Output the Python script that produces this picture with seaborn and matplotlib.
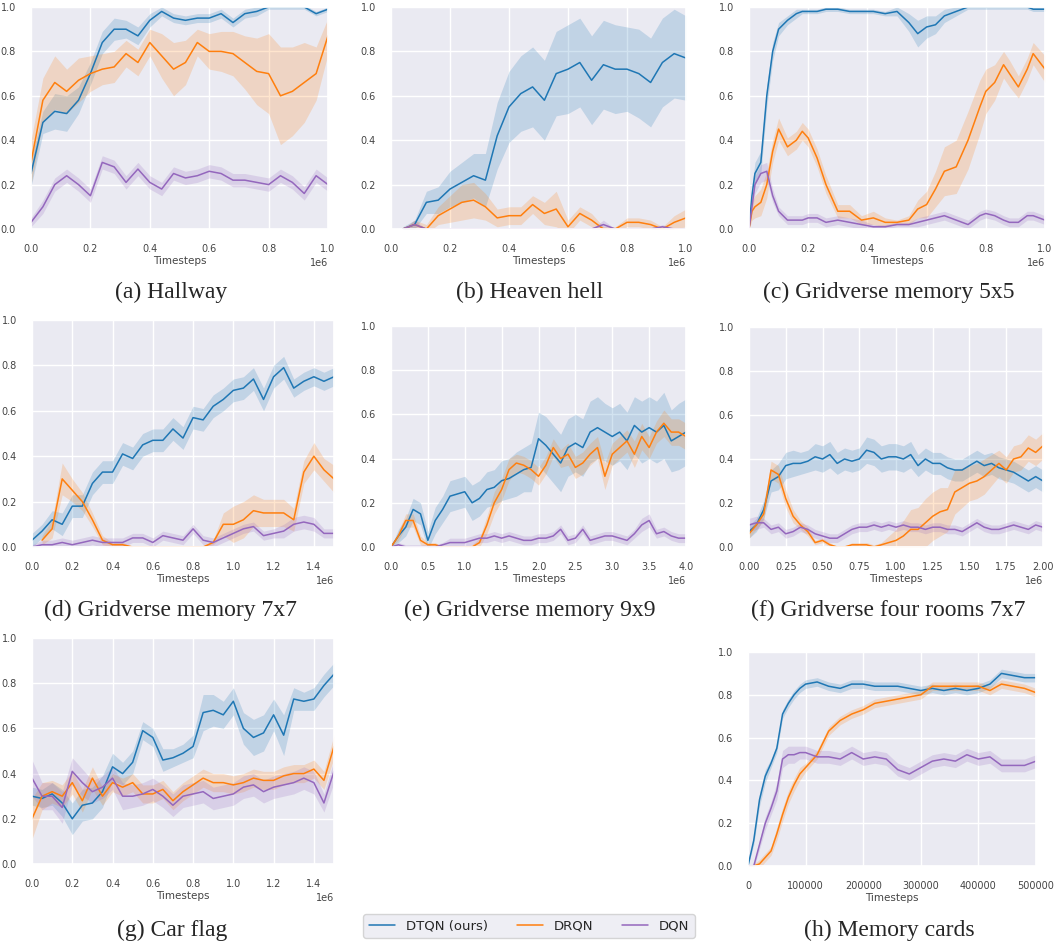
import numpy as np
import matplotlib.pyplot as plt
import seaborn as sns

sns.set_theme(style="darkgrid")
plt.rcParams['font.family'] = ['DejaVu Sans']

nan = np.nan
ALGOS = ['DTQN (ours)', 'DRQN', 'DQN']
COLORS = ['#1f77b4', '#ff7f0e', '#9467bd']

# (a) Hallway  (x in millions of timesteps)
A_X = [0, .04, .08, .12, .16, .20, .24, .28, .32, .36, .40, .44, .48, .52, .56, .60, .64, .68, .72, .76, .80, .84, .88, .92, .96, 1.0]
A_DTQN = [0.25, 0.48, 0.53, 0.52, 0.58, 0.70, 0.84, 0.90, 0.90, 0.87, 0.94, 0.98, 0.95, 0.94, 0.95, 0.95, 0.97, 0.93, 0.97, 0.98, 1.0, 1.0, 1.0, 1.0, 0.97, 0.99]
A_DTQN_SD = [0.06, 0.05, 0.08, 0.08, 0.06, 0.05, 0.05, 0.05, 0.04, 0.04, 0.03, 0.02, 0.02, 0.02, 0.02, 0.02, 0.02, 0.02, 0.02, 0.02, 0.01, 0.01, 0.01, 0.01, 0.01, 0.01]
A_DRQN = [0.30, 0.58, 0.66, 0.62, 0.67, 0.70, 0.72, 0.73, 0.79, 0.75, 0.84, 0.78, 0.72, 0.75, 0.84, 0.80, 0.80, 0.79, 0.75, 0.71, 0.70, 0.60, 0.62, 0.66, 0.70, 0.87]
A_DRQN_SD = [0.10, 0.10, 0.12, 0.10, 0.10, 0.08, 0.07, 0.07, 0.06, 0.06, 0.06, 0.10, 0.12, 0.10, 0.06, 0.08, 0.09, 0.10, 0.12, 0.15, 0.18, 0.22, 0.20, 0.18, 0.12, 0.08]
A_DQN = [0.03, 0.10, 0.20, 0.24, 0.20, 0.15, 0.30, 0.28, 0.21, 0.27, 0.21, 0.18, 0.25, 0.23, 0.24, 0.26, 0.25, 0.22, 0.22, 0.21, 0.20, 0.24, 0.21, 0.16, 0.24, 0.20]
A_DQN_SD = [0.02, 0.03, 0.03, 0.03, 0.03, 0.03, 0.03, 0.03, 0.03, 0.03, 0.03, 0.03, 0.03, 0.03, 0.03, 0.03, 0.03, 0.03, 0.03, 0.03, 0.03, 0.03, 0.03, 0.03, 0.03, 0.03]

# (b) Heaven hell
B_X = [0, .04, .08, .12, .16, .20, .24, .28, .32, .36, .40, .44, .48, .52, .56, .60, .64, .68, .72, .76, .80, .84, .88, .92, .96, 1.0]
B_DTQN = [nan, 0.0, 0.02, 0.12, 0.13, 0.18, 0.21, 0.24, 0.22, 0.42, 0.55, 0.61, 0.64, 0.58, 0.70, 0.72, 0.75, 0.67, 0.74, 0.72, 0.72, 0.70, 0.66, 0.75, 0.79, 0.77]
B_DTQN_SD = [0.0, 0.01, 0.02, 0.05, 0.06, 0.08, 0.09, 0.10, 0.12, 0.15, 0.16, 0.17, 0.18, 0.18, 0.19, 0.20, 0.20, 0.20, 0.20, 0.20, 0.19, 0.20, 0.20, 0.20, 0.20, 0.19]
B_DRQN = [nan, 0.0, 0.02, 0.0, 0.06, 0.09, 0.12, 0.13, 0.10, 0.05, 0.06, 0.06, 0.11, 0.07, 0.09, 0.01, 0.07, 0.04, 0.0, 0.0, 0.03, 0.03, 0.02, 0.0, 0.03, 0.05]
B_DRQN_SD = [0.0, 0.0, 0.02, 0.02, 0.04, 0.06, 0.08, 0.08, 0.06, 0.04, 0.04, 0.04, 0.04, 0.05, 0.08, 0.03, 0.03, 0.03, 0.01, 0.01, 0.02, 0.02, 0.02, 0.01, 0.03, 0.04]
B_DQN = [nan, 0.0, 0.02, 0.0, 0.0, 0.0, 0.0, 0.0, 0.0, 0.0, 0.0, 0.0, 0.0, 0.0, 0.0, 0.0, 0.0, 0.0, 0.02, 0.0, 0.0, 0.0, 0.0, 0.01, 0.0, 0.0]
B_DQN_SD = [0.0, 0.0, 0.02, 0.0, 0.0, 0.0, 0.0, 0.0, 0.0, 0.0, 0.0, 0.0, 0.0, 0.0, 0.0, 0.0, 0.0, 0.0, 0.02, 0.0, 0.0, 0.0, 0.0, 0.01, 0.0, 0.0]

# (c) Gridverse memory 5x5
C_X = [0, .01, .02, .04, .06, .08, .10, .13, .16, .18, .20, .23, .26, .30, .34, .38, .42, .46, .50, .54, .57, .60, .63, .66, .70, .74, .78, .80, .83, .86, .88, .91, .94, .96, 1.0]
C_DTQN = [0.0, 0.15, 0.25, 0.30, 0.60, 0.80, 0.90, 0.94, 0.97, 0.98, 0.98, 0.98, 0.99, 0.99, 0.98, 0.98, 0.98, 0.97, 0.98, 0.93, 0.88, 0.91, 0.92, 0.96, 0.98, 1.0, 1.0, 1.0, 1.0, 1.0, 1.0, 1.0, 1.0, 0.99, 0.99]
C_DTQN_SD = [0.0, 0.04, 0.05, 0.05, 0.05, 0.04, 0.03, 0.02, 0.02, 0.01, 0.01, 0.01, 0.01, 0.01, 0.01, 0.01, 0.01, 0.01, 0.02, 0.04, 0.06, 0.05, 0.04, 0.03, 0.02, 0.01, 0.01, 0.01, 0.01, 0.01, 0.01, 0.01, 0.01, 0.01, 0.01]
C_DRQN = [0.0, 0.08, 0.10, 0.12, 0.20, 0.35, 0.45, 0.37, 0.40, 0.44, 0.41, 0.32, 0.20, 0.08, 0.08, 0.04, 0.05, 0.03, 0.03, 0.04, 0.09, 0.11, 0.18, 0.26, 0.28, 0.40, 0.55, 0.62, 0.66, 0.74, 0.70, 0.64, 0.72, 0.79, 0.72]
C_DRQN_SD = [0.0, 0.04, 0.05, 0.06, 0.06, 0.05, 0.05, 0.04, 0.04, 0.04, 0.04, 0.04, 0.04, 0.03, 0.03, 0.02, 0.03, 0.02, 0.01, 0.02, 0.04, 0.06, 0.08, 0.11, 0.12, 0.13, 0.12, 0.10, 0.08, 0.06, 0.06, 0.05, 0.05, 0.05, 0.06]
C_DQN = [0.0, 0.10, 0.20, 0.25, 0.26, 0.15, 0.08, 0.04, 0.04, 0.04, 0.05, 0.05, 0.03, 0.04, 0.03, 0.02, 0.01, 0.01, 0.02, 0.02, 0.03, 0.04, 0.05, 0.06, 0.04, 0.02, 0.06, 0.07, 0.06, 0.04, 0.03, 0.03, 0.06, 0.06, 0.04]
C_DQN_SD = [0.0, 0.03, 0.04, 0.04, 0.04, 0.03, 0.02, 0.02, 0.02, 0.02, 0.02, 0.02, 0.02, 0.02, 0.02, 0.02, 0.01, 0.01, 0.01, 0.01, 0.02, 0.02, 0.02, 0.02, 0.02, 0.02, 0.02, 0.02, 0.02, 0.02, 0.02, 0.02, 0.02, 0.02, 0.02]

# (d) Gridverse memory 7x7
D_X = [0, .05, .10, .15, .20, .25, .30, .35, .40, .45, .50, .55, .60, .65, .70, .75, .80, .85, .90, .95, 1.0, 1.05, 1.10, 1.15, 1.20, 1.25, 1.30, 1.35, 1.40, 1.45, 1.50]
D_DTQN = [0.03, 0.07, 0.12, 0.10, 0.18, 0.18, 0.28, 0.33, 0.33, 0.41, 0.39, 0.45, 0.47, 0.47, 0.52, 0.48, 0.57, 0.56, 0.62, 0.65, 0.69, 0.70, 0.74, 0.65, 0.75, 0.79, 0.70, 0.73, 0.75, 0.73, 0.75]
D_DTQN_SD = [0.03, 0.03, 0.04, 0.05, 0.05, 0.05, 0.05, 0.05, 0.05, 0.05, 0.05, 0.05, 0.05, 0.05, 0.05, 0.05, 0.05, 0.05, 0.05, 0.05, 0.05, 0.05, 0.05, 0.05, 0.05, 0.05, 0.04, 0.04, 0.04, 0.04, 0.04]
D_DRQN = [nan, 0.03, 0.08, 0.30, 0.25, 0.20, 0.12, 0.03, 0.01, 0.01, 0.0, 0.0, 0.0, 0.0, 0.0, 0.0, 0.0, 0.0, 0.02, 0.10, 0.10, 0.12, 0.16, 0.15, 0.15, 0.15, 0.12, 0.33, 0.40, 0.34, 0.30]
D_DRQN_SD = [0.0, 0.02, 0.04, 0.07, 0.05, 0.04, 0.03, 0.02, 0.01, 0.01, 0.0, 0.0, 0.0, 0.0, 0.0, 0.0, 0.0, 0.0, 0.01, 0.05, 0.08, 0.08, 0.07, 0.06, 0.06, 0.06, 0.05, 0.05, 0.06, 0.05, 0.06]
D_DQN = [0.0, 0.01, 0.01, 0.02, 0.01, 0.02, 0.03, 0.02, 0.02, 0.02, 0.04, 0.04, 0.02, 0.05, 0.04, 0.03, 0.08, 0.03, 0.02, 0.04, 0.06, 0.08, 0.09, 0.05, 0.06, 0.07, 0.10, 0.11, 0.10, 0.06, 0.06]
D_DQN_SD = [0.01, 0.02, 0.02, 0.02, 0.02, 0.02, 0.02, 0.02, 0.02, 0.02, 0.02, 0.02, 0.02, 0.02, 0.02, 0.02, 0.02, 0.02, 0.02, 0.02, 0.02, 0.02, 0.02, 0.02, 0.02, 0.03, 0.03, 0.03, 0.03, 0.02, 0.02]

# (e) Gridverse memory 9x9
E_X = [0, .1, .2, .3, .4, .5, .6, .7, .8, .9, 1.0, 1.1, 1.2, 1.3, 1.4, 1.5, 1.6, 1.7, 1.8, 1.9, 2.0,
       2.1, 2.2, 2.3, 2.4, 2.5, 2.6, 2.7, 2.8, 2.9, 3.0, 3.1, 3.2, 3.3, 3.4, 3.5, 3.6, 3.7, 3.8, 3.9, 4.0]
E_DTQN = [0.0, 0.05, 0.09, 0.17, 0.15, 0.03, 0.12, 0.17, 0.23, 0.24, 0.25, 0.20, 0.22, 0.26, 0.27, 0.30, 0.31, 0.33, 0.35, 0.36, 0.49,
          0.46, 0.42, 0.38, 0.45, 0.47, 0.45, 0.52, 0.54, 0.52, 0.50, 0.52, 0.48, 0.55, 0.52, 0.54, 0.52, 0.55, 0.48, 0.50, 0.52]
E_DTQN_SD = [0.0, 0.03, 0.04, 0.05, 0.05, 0.04, 0.06, 0.06, 0.07, 0.07, 0.07, 0.08, 0.08, 0.08, 0.08, 0.09, 0.09, 0.10, 0.10, 0.11, 0.12,
             0.13, 0.13, 0.13, 0.13, 0.13, 0.13, 0.14, 0.14, 0.13, 0.13, 0.13, 0.13, 0.13, 0.14, 0.14, 0.14, 0.15, 0.14, 0.15, 0.15]
E_DRQN = [0.0, 0.05, 0.12, 0.12, 0.03, 0.01, 0.01, 0.0, 0.0, 0.0, 0.0, 0.0, 0.02, 0.10, 0.20, 0.26, 0.35, 0.38, 0.37, 0.35, 0.32,
          0.37, 0.45, 0.40, 0.42, 0.36, 0.38, 0.42, 0.45, 0.32, 0.42, 0.45, 0.48, 0.42, 0.50, 0.45, 0.52, 0.56, 0.52, 0.52, 0.50]
E_DRQN_SD = [0.0, 0.02, 0.03, 0.03, 0.02, 0.01, 0.01, 0.0, 0.0, 0.0, 0.0, 0.01, 0.02, 0.04, 0.05, 0.05, 0.05, 0.04, 0.04, 0.04, 0.04,
             0.04, 0.04, 0.04, 0.05, 0.05, 0.05, 0.05, 0.05, 0.06, 0.05, 0.05, 0.05, 0.06, 0.06, 0.05, 0.05, 0.06, 0.06, 0.06, 0.06]
E_DQN = [0.0, 0.01, 0.0, 0.0, 0.0, 0.0, 0.0, 0.01, 0.02, 0.02, 0.02, 0.03, 0.04, 0.04, 0.05, 0.04, 0.05, 0.04, 0.03, 0.03, 0.04,
         0.04, 0.05, 0.08, 0.03, 0.04, 0.08, 0.03, 0.04, 0.05, 0.05, 0.04, 0.03, 0.06, 0.10, 0.12, 0.06, 0.07, 0.05, 0.04, 0.04]
E_DQN_SD = [0.0, 0.01, 0.01, 0.01, 0.01, 0.01, 0.01, 0.01, 0.02, 0.02, 0.02, 0.02, 0.02, 0.02, 0.02, 0.02, 0.02, 0.02, 0.02, 0.02, 0.02,
            0.02, 0.02, 0.02, 0.02, 0.02, 0.02, 0.02, 0.02, 0.02, 0.02, 0.02, 0.02, 0.02, 0.03, 0.03, 0.02, 0.02, 0.02, 0.02, 0.02]

# (f) Gridverse four rooms 7x7
F_X = [0, .05, .10, .15, .20, .25, .30, .35, .40, .45, .50, .55, .60, .65, .70, .75, .80, .85, .90, .95, 1.0,
       1.05, 1.10, 1.15, 1.20, 1.25, 1.30, 1.35, 1.40, 1.45, 1.50, 1.55, 1.60, 1.65, 1.70, 1.75, 1.80, 1.85, 1.90, 1.95, 2.0]
F_DTQN = [0.07, 0.10, 0.17, 0.30, 0.32, 0.37, 0.38, 0.38, 0.39, 0.41, 0.40, 0.42, 0.38, 0.40, 0.39, 0.40, 0.44, 0.43, 0.40, 0.41, 0.41,
          0.40, 0.42, 0.37, 0.40, 0.38, 0.38, 0.36, 0.35, 0.35, 0.37, 0.39, 0.37, 0.38, 0.36, 0.35, 0.34, 0.32, 0.30, 0.32, 0.30]
F_DTQN_SD = [0.03, 0.03, 0.04, 0.05, 0.06, 0.06, 0.06, 0.05, 0.05, 0.06, 0.06, 0.06, 0.05, 0.05, 0.05, 0.05, 0.06, 0.06, 0.06, 0.06, 0.06,
             0.06, 0.06, 0.05, 0.05, 0.05, 0.05, 0.05, 0.05, 0.05, 0.05, 0.05, 0.05, 0.05, 0.05, 0.05, 0.05, 0.05, 0.05, 0.05, 0.05]
F_DRQN = [0.06, 0.10, 0.15, 0.35, 0.33, 0.22, 0.14, 0.10, 0.07, 0.02, 0.03, 0.01, 0.0, 0.0, 0.01, 0.01, 0.01, 0.0, 0.01, 0.02, 0.03,
          0.05, 0.08, 0.08, 0.11, 0.14, 0.16, 0.17, 0.25, 0.27, 0.29, 0.30, 0.32, 0.35, 0.38, 0.35, 0.40, 0.41, 0.45, 0.43, 0.46]
F_DRQN_SD = [0.02, 0.02, 0.03, 0.04, 0.04, 0.04, 0.03, 0.02, 0.02, 0.01, 0.01, 0.01, 0.0, 0.0, 0.01, 0.01, 0.01, 0.01, 0.01, 0.03, 0.05,
             0.07, 0.09, 0.10, 0.11, 0.11, 0.11, 0.10, 0.10, 0.09, 0.08, 0.08, 0.08, 0.07, 0.06, 0.06, 0.06, 0.06, 0.06, 0.06, 0.06]
F_DQN = [0.10, 0.11, 0.11, 0.08, 0.09, 0.06, 0.07, 0.09, 0.08, 0.06, 0.05, 0.04, 0.04, 0.06, 0.08, 0.09, 0.09, 0.10, 0.09, 0.10, 0.09,
         0.10, 0.09, 0.09, 0.08, 0.09, 0.09, 0.08, 0.08, 0.07, 0.09, 0.11, 0.09, 0.08, 0.08, 0.09, 0.10, 0.09, 0.08, 0.10, 0.09]
F_DQN_SD = [0.03, 0.03, 0.02, 0.02, 0.02, 0.02, 0.02, 0.02, 0.02, 0.02, 0.02, 0.02, 0.02, 0.02, 0.02, 0.02, 0.02, 0.02, 0.02, 0.02, 0.02,
            0.02, 0.02, 0.02, 0.02, 0.02, 0.02, 0.02, 0.02, 0.02, 0.02, 0.02, 0.02, 0.02, 0.02, 0.02, 0.02, 0.02, 0.02, 0.02, 0.02]

# (g) Car flag
G_X = [0, .05, .10, .15, .20, .25, .30, .35, .40, .45, .50, .55, .60, .65, .70, .75, .80, .85, .90, .95, 1.0, 1.05, 1.10, 1.15, 1.20, 1.25, 1.30, 1.35, 1.40, 1.45, 1.50]
G_DTQN = [0.30, 0.29, 0.31, 0.27, 0.20, 0.26, 0.27, 0.32, 0.43, 0.40, 0.45, 0.59, 0.56, 0.46, 0.47, 0.49, 0.52, 0.67, 0.68, 0.66, 0.72, 0.60, 0.56, 0.58, 0.66, 0.57, 0.73, 0.72, 0.73, 0.79, 0.84]
G_DTQN_SD = [0.04, 0.04, 0.05, 0.06, 0.07, 0.07, 0.07, 0.07, 0.06, 0.05, 0.05, 0.04, 0.04, 0.05, 0.04, 0.04, 0.05, 0.08, 0.07, 0.06, 0.06, 0.07, 0.08, 0.08, 0.07, 0.09, 0.05, 0.04, 0.05, 0.05, 0.05]
G_DRQN = [0.20, 0.30, 0.32, 0.30, 0.36, 0.28, 0.38, 0.30, 0.36, 0.34, 0.36, 0.31, 0.31, 0.33, 0.28, 0.32, 0.35, 0.38, 0.36, 0.36, 0.35, 0.36, 0.38, 0.37, 0.37, 0.39, 0.40, 0.40, 0.42, 0.37, 0.52]
G_DRQN_SD = [0.09, 0.06, 0.05, 0.05, 0.05, 0.05, 0.05, 0.04, 0.04, 0.04, 0.04, 0.04, 0.04, 0.04, 0.04, 0.04, 0.04, 0.04, 0.04, 0.04, 0.04, 0.04, 0.04, 0.04, 0.04, 0.04, 0.04, 0.04, 0.04, 0.04, 0.05]
G_DQN = [0.38, 0.30, 0.30, 0.25, 0.41, 0.36, 0.32, 0.34, 0.38, 0.30, 0.30, 0.31, 0.33, 0.30, 0.26, 0.30, 0.31, 0.32, 0.29, 0.30, 0.31, 0.34, 0.35, 0.32, 0.34, 0.35, 0.36, 0.38, 0.36, 0.27, 0.41]
G_DQN_SD = [0.08, 0.06, 0.06, 0.07, 0.06, 0.06, 0.05, 0.05, 0.05, 0.06, 0.05, 0.05, 0.05, 0.05, 0.05, 0.05, 0.05, 0.05, 0.05, 0.05, 0.05, 0.05, 0.05, 0.05, 0.05, 0.05, 0.05, 0.05, 0.05, 0.04, 0.05]

# (h) Memory cards (raw timesteps)
H_X = [0, 10000, 20000, 30000, 40000, 50000, 60000, 70000, 80000, 90000, 100000, 120000, 140000, 160000, 180000, 200000,
       220000, 240000, 260000, 280000, 300000, 320000, 340000, 360000, 380000, 400000, 420000, 440000, 460000, 480000, 500000]
H_DTQN = [0.0, 0.12, 0.31, 0.42, 0.48, 0.55, 0.71, 0.76, 0.80, 0.83, 0.85, 0.86, 0.84, 0.83, 0.85, 0.85,
          0.84, 0.84, 0.84, 0.83, 0.82, 0.83, 0.82, 0.83, 0.82, 0.83, 0.85, 0.90, 0.89, 0.88, 0.88]
H_DTQN_SD = [0.0, 0.02, 0.03, 0.03, 0.02, 0.02, 0.02, 0.02, 0.02, 0.02, 0.02, 0.02, 0.02, 0.02, 0.02, 0.02,
             0.02, 0.02, 0.02, 0.02, 0.02, 0.02, 0.02, 0.02, 0.02, 0.02, 0.02, 0.02, 0.02, 0.02, 0.02]
H_DRQN = [0.0, 0.0, 0.01, 0.04, 0.07, 0.15, 0.24, 0.32, 0.38, 0.43, 0.46, 0.52, 0.63, 0.68, 0.71, 0.73,
          0.76, 0.77, 0.78, 0.79, 0.80, 0.84, 0.84, 0.84, 0.84, 0.84, 0.82, 0.85, 0.84, 0.83, 0.81]
H_DRQN_SD = [0.0, 0.01, 0.02, 0.02, 0.02, 0.03, 0.03, 0.03, 0.03, 0.03, 0.02, 0.02, 0.02, 0.02, 0.02, 0.02,
             0.02, 0.02, 0.02, 0.02, 0.02, 0.02, 0.02, 0.02, 0.02, 0.02, 0.02, 0.02, 0.02, 0.02, 0.02]
H_DQN = [0.0, 0.0, 0.10, 0.20, 0.27, 0.35, 0.50, 0.52, 0.52, 0.53, 0.53, 0.51, 0.51, 0.50, 0.53, 0.50,
         0.51, 0.50, 0.45, 0.43, 0.46, 0.49, 0.50, 0.49, 0.52, 0.50, 0.51, 0.47, 0.47, 0.47, 0.49]
H_DQN_SD = [0.0, 0.01, 0.02, 0.03, 0.03, 0.04, 0.04, 0.04, 0.04, 0.03, 0.03, 0.03, 0.03, 0.03, 0.03, 0.03,
            0.03, 0.03, 0.03, 0.03, 0.03, 0.03, 0.03, 0.03, 0.03, 0.03, 0.03, 0.03, 0.03, 0.03, 0.03]

W, H = 1056, 944
fig = plt.figure(figsize=(W / 100, H / 100), dpi=100)


def rect(l, r, t, b):
    return [l / W, 1 - b / H, (r - l) / W, (b - t) / H]


def panel(box, x, scale, series, xticks, caption, cap_xy):
    ax = fig.add_axes(rect(*box))
    xs = np.array(x) * scale
    for (name, mean, sd), c in zip(zip(ALGOS, *zip(*series)), COLORS):
        mean = np.array(mean, dtype=float)
        sd = np.array(sd, dtype=float)
        ax.fill_between(xs, mean - sd, mean + sd, color=c, alpha=0.2, lw=0)
        sns.lineplot(x=xs, y=mean, ax=ax, color=c, linewidth=1.1, label=name, errorbar=None)
    ax.get_legend().remove()
    ax.set_xlim(0, xs[-1])
    ax.set_ylim(0, 1)
    ax.set_yticks([0, 0.2, 0.4, 0.6, 0.8, 1.0])
    ax.set_xticks(np.array(xticks) * scale)
    ax.tick_params(labelsize=7, pad=5, colors='#444444')
    ax.set_xlabel('Timesteps', fontsize=7.5, labelpad=1.5, color='#444444')
    ax.xaxis.get_offset_text().set_fontsize(7)
    ax.xaxis.get_offset_text().set_color('#444444')
    fig.text(cap_xy[0] / W, 1 - cap_xy[1] / H, caption, ha='center', va='center',
             family='Liberation Serif', fontsize=17)
    return ax


ax_a = panel((31, 328, 7, 229), A_X, 1e6,
             [(A_DTQN, A_DTQN_SD), (A_DRQN, A_DRQN_SD), (A_DQN, A_DQN_SD)],
             [0, .2, .4, .6, .8, 1.0], '(a) Hallway', (171, 292))
panel((391, 686, 7, 229), B_X, 1e6,
      [(B_DTQN, B_DTQN_SD), (B_DRQN, B_DRQN_SD), (B_DQN, B_DQN_SD)],
      [0, .2, .4, .6, .8, 1.0], '(b) Heaven hell', (530, 292))
panel((749, 1045, 7, 229), C_X, 1e6,
      [(C_DTQN, C_DTQN_SD), (C_DRQN, C_DRQN_SD), (C_DQN, C_DQN_SD)],
      [0, .2, .4, .6, .8, 1.0], '(c) Gridverse memory 5x5', (889, 292))
panel((32, 334, 320, 547), D_X, 1e6,
      [(D_DTQN, D_DTQN_SD), (D_DRQN, D_DRQN_SD), (D_DQN, D_DQN_SD)],
      [0, .2, .4, .6, .8, 1.0, 1.2, 1.4], '(d) Gridverse memory 7x7', (170, 610))
panel((391, 686, 326, 547), E_X, 1e6,
      [(E_DTQN, E_DTQN_SD), (E_DRQN, E_DRQN_SD), (E_DQN, E_DQN_SD)],
      [0, .5, 1.0, 1.5, 2.0, 2.5, 3.0, 3.5, 4.0], '(e) Gridverse memory 9x9', (530, 610))
panel((749, 1043, 327, 547), F_X, 1e6,
      [(F_DTQN, F_DTQN_SD), (F_DRQN, F_DRQN_SD), (F_DQN, F_DQN_SD)],
      [0, .25, .5, .75, 1.0, 1.25, 1.5, 1.75, 2.0], '(f) Gridverse four rooms 7x7', (888, 610))
panel((32, 334, 638, 864), G_X, 1e6,
      [(G_DTQN, G_DTQN_SD), (G_DRQN, G_DRQN_SD), (G_DQN, G_DQN_SD)],
      [0, .2, .4, .6, .8, 1.0, 1.2, 1.4], '(g) Car flag', (172, 930))
ax_h = panel((748, 1036, 652, 866), H_X, 1,
             [(H_DTQN, H_DTQN_SD), (H_DRQN, H_DRQN_SD), (H_DQN, H_DQN_SD)],
             [0, 100000, 200000, 300000, 400000, 500000], '(h) Memory cards', (889, 930))
ax_h.ticklabel_format(axis='x', style='plain')

handles, labels = ax_a.get_legend_handles_labels()
fig.legend(handles, labels, loc='center', bbox_to_anchor=(529 / W, 1 - 926 / H), ncol=3,
           fontsize=9.5, frameon=True, edgecolor='#cccccc', columnspacing=2.2)

fig.savefig('out.png', dpi=100)
